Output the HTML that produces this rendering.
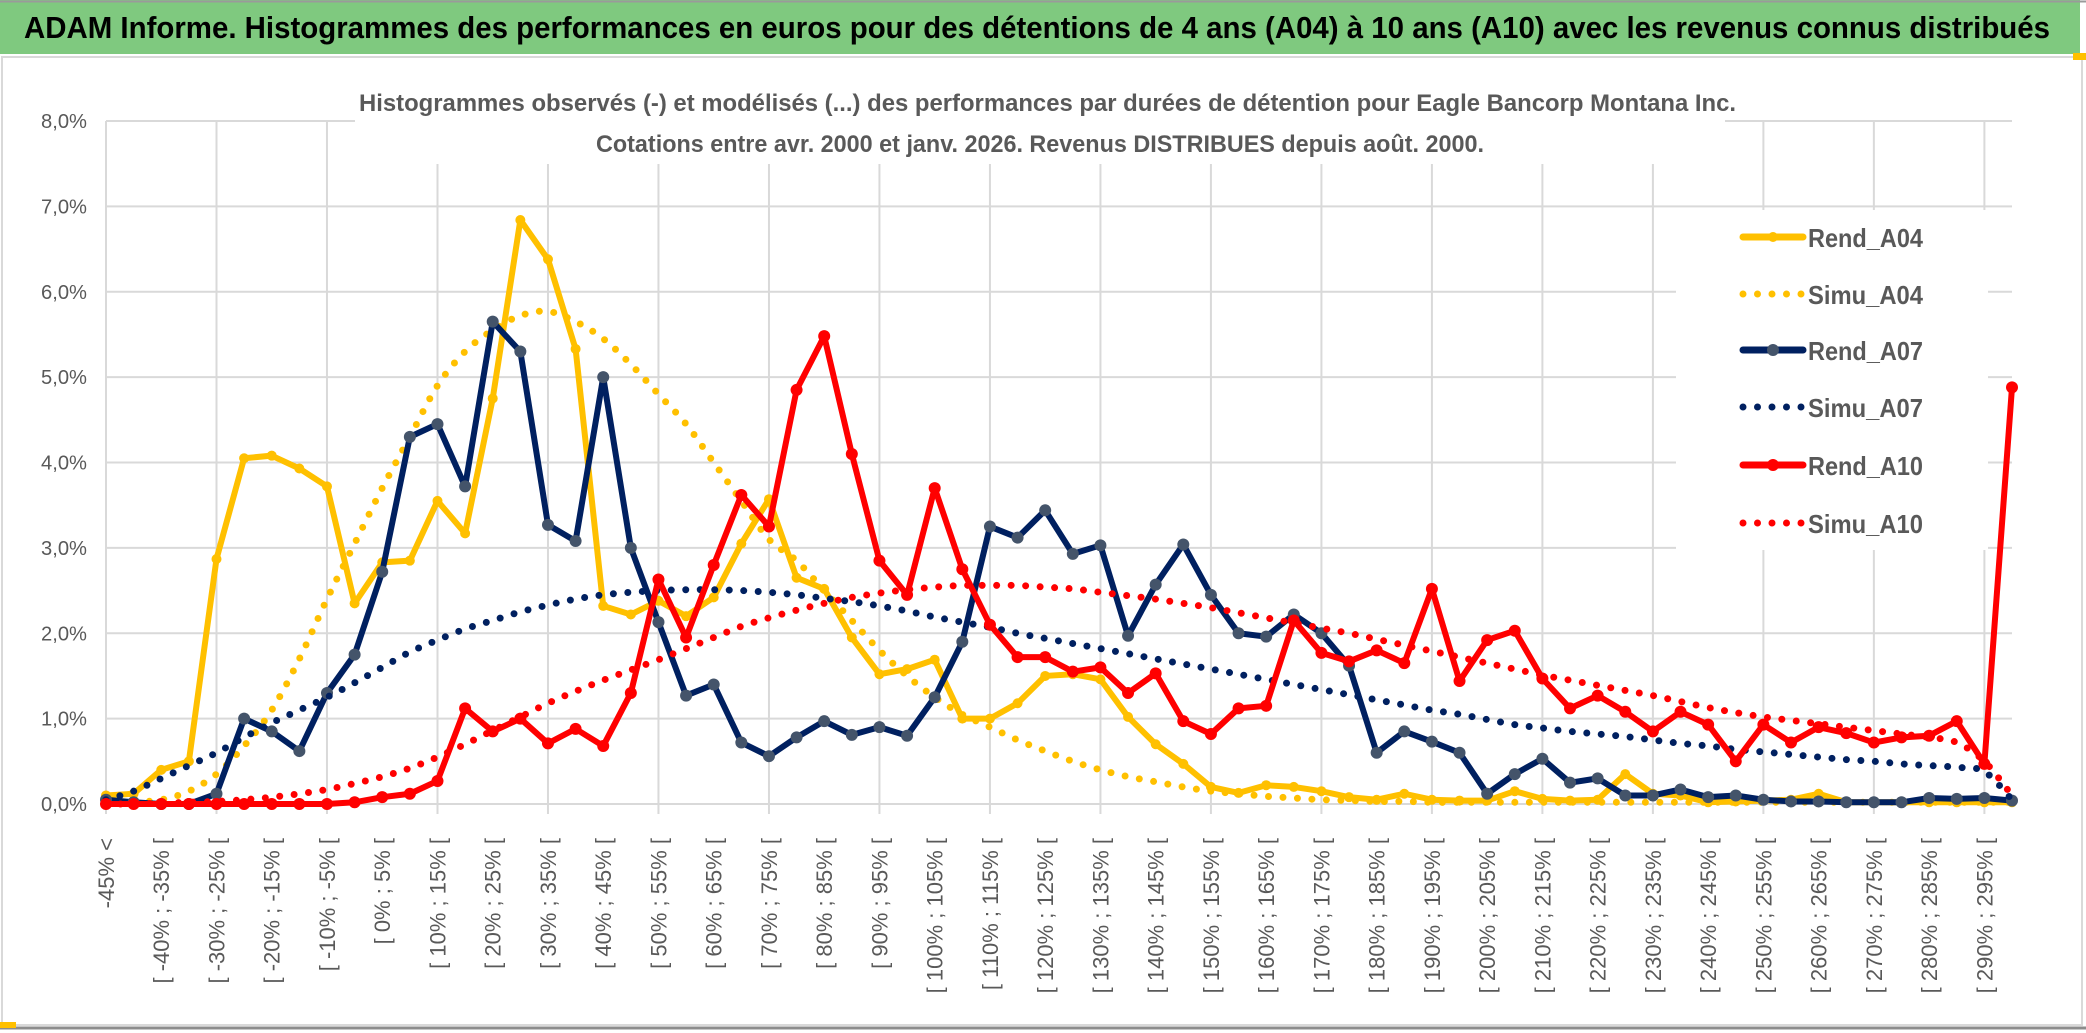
<!DOCTYPE html>
<html><head><meta charset="utf-8"><style>
html,body{margin:0;padding:0;background:#fff;}
svg{display:block;font-family:"Liberation Sans",sans-serif;}
</style></head><body>
<svg id="chart" width="2086" height="1033" viewBox="0 0 2086 1033" xmlns="http://www.w3.org/2000/svg">
  <rect x="0" y="0" width="2086" height="1033" fill="#fff"/>
  <rect x="0" y="0" width="2080" height="54" fill="#7fc97f"/>
  <line x1="0" y1="1.5" x2="2086" y2="1.5" stroke="#9a9a9a" stroke-width="2"/>
  <text x="24" y="38" font-size="31" font-weight="bold" fill="#000" textLength="2026" lengthAdjust="spacingAndGlyphs">ADAM Informe. Histogrammes des performances en euros pour des détentions de 4 ans (A04) à 10 ans (A10) avec les revenus connus distribués</text>
  <rect x="2" y="57" width="2080" height="968" fill="none" stroke="#d9d9d9" stroke-width="2"/>
  <rect x="2073" y="53" width="13" height="7" fill="#ffc000"/>
  <line x1="0" y1="1028" x2="2086" y2="1028" stroke="#8c8c8c" stroke-width="3"/>
  <rect x="0" y="1022" width="16" height="6" fill="#ffc000"/>
  <g id="grid"></g>
  <g id="yaxis"></g>
  <g id="xaxis"></g>
  <g id="series"></g>
  <rect x="355" y="72" width="1370" height="92" fill="#fff"/>
  <text x="359" y="111" font-size="24" font-weight="bold" fill="#595959" textLength="1377" lengthAdjust="spacingAndGlyphs">Histogrammes observés (-) et modélisés (...) des performances par durées de détention pour Eagle Bancorp Montana Inc.</text>
  <text x="596" y="152" font-size="24" font-weight="bold" fill="#595959" textLength="888" lengthAdjust="spacingAndGlyphs">Cotations entre avr. 2000 et janv. 2026. Revenus DISTRIBUES depuis août. 2000.</text>
  <rect x="1676" y="210" width="312" height="340" fill="#fff"/>
  <g id="legend"></g>
</svg>
<script>
const categories = ["-45% <"];
for (let k = 1; k < 69; k++) categories.push("[ " + (-50 + 5 * k) + "% ; " + (-45 + 5 * k) + "% [");
categories.push("> 295%");
const yTicks = [0, 1, 2, 3, 4, 5, 6, 7, 8];
const yTickLabels = ["0,0%", "1,0%", "2,0%", "3,0%", "4,0%", "5,0%", "6,0%", "7,0%", "8,0%"];
const rendA04 = [0.1,0.12,0.4,0.5,2.87,4.05,4.08,3.93,3.72,2.35,2.83,2.85,3.55,3.17,4.75,6.84,6.38,5.33,2.32,2.22,2.38,2.2,2.42,3.05,3.57,2.65,2.52,1.95,1.52,1.58,1.69,1.0,1.0,1.18,1.5,1.52,1.46,1.02,0.7,0.47,0.2,0.13,0.22,0.2,0.15,0.08,0.05,0.12,0.05,0.04,0.04,0.15,0.06,0.04,0.05,0.35,0.12,0.1,0.02,0.03,0.04,0.05,0.12,0.02,0.02,0.02,0.02,0.02,0.02,0.02];
const simuA04 = [0.0,0.02,0.05,0.15,0.35,0.68,1.1,1.7,2.4,3.05,3.7,4.3,4.9,5.3,5.55,5.72,5.77,5.65,5.45,5.15,4.8,4.45,4.0,3.55,3.1,2.85,2.5,2.15,1.8,1.5,1.25,1.05,0.9,0.75,0.62,0.5,0.4,0.32,0.26,0.2,0.15,0.12,0.09,0.07,0.05,0.04,0.03,0.03,0.02,0.02,0.02,0.02,0.02,0.02,0.02,0.02,0.02,0.02,0.02,0.02,0.02,0.02,0.02,0.02,0.02,0.02,0.02,0.02,0.02,0.02];
const rendA07 = [0.05,0.02,0.0,0.0,0.12,1.0,0.85,0.62,1.3,1.75,2.72,4.3,4.45,3.72,5.65,5.3,3.27,3.08,5.0,3.0,2.13,1.27,1.4,0.72,0.56,0.78,0.97,0.81,0.9,0.8,1.25,1.9,3.25,3.12,3.44,2.93,3.03,1.97,2.57,3.04,2.45,2.0,1.96,2.22,2.0,1.62,0.6,0.85,0.73,0.6,0.12,0.35,0.53,0.25,0.3,0.1,0.1,0.17,0.08,0.1,0.05,0.03,0.03,0.02,0.02,0.02,0.07,0.06,0.07,0.04];
const simuA07 = [0.05,0.15,0.3,0.45,0.6,0.78,0.95,1.1,1.25,1.42,1.6,1.78,1.92,2.05,2.15,2.25,2.33,2.4,2.45,2.48,2.5,2.51,2.51,2.5,2.48,2.45,2.41,2.37,2.32,2.26,2.19,2.13,2.07,2.0,1.94,1.88,1.82,1.76,1.7,1.64,1.58,1.52,1.46,1.4,1.34,1.28,1.22,1.16,1.1,1.05,0.99,0.93,0.89,0.85,0.82,0.79,0.75,0.71,0.68,0.64,0.61,0.58,0.55,0.52,0.5,0.47,0.45,0.43,0.38,0.05];
const rendA10 = [0,0,0,0,0,0,0,0,0,0.02,0.08,0.12,0.27,1.12,0.85,1.0,0.71,0.88,0.68,1.3,2.63,1.95,2.8,3.62,3.25,4.85,5.48,4.1,2.85,2.45,3.7,2.75,2.1,1.72,1.72,1.55,1.6,1.3,1.53,0.97,0.82,1.12,1.15,2.15,1.77,1.67,1.8,1.65,2.52,1.44,1.92,2.03,1.47,1.12,1.27,1.08,0.85,1.08,0.93,0.5,0.93,0.72,0.9,0.83,0.72,0.78,0.8,0.97,0.47,4.88];
const simuA10 = [0.0,0.0,0.01,0.02,0.03,0.05,0.08,0.12,0.17,0.24,0.32,0.42,0.55,0.7,0.86,1.02,1.18,1.32,1.45,1.57,1.69,1.82,1.95,2.08,2.18,2.27,2.35,2.42,2.47,2.51,2.54,2.56,2.56,2.56,2.54,2.52,2.48,2.44,2.4,2.35,2.3,2.24,2.18,2.12,2.06,2.0,1.93,1.86,1.79,1.72,1.65,1.58,1.51,1.45,1.39,1.33,1.27,1.2,1.13,1.07,1.02,0.98,0.94,0.9,0.86,0.82,0.78,0.72,0.5,0.1];
const seriesNames = ["Rend_A04","Simu_A04","Rend_A07","Simu_A07","Rend_A10","Simu_A10"];

const NS = "http://www.w3.org/2000/svg";
const X0 = 106, X1 = 2012, Y0 = 804, Y8 = 121;
function xPos(i) { return X0 + i * (X1 - X0) / (categories.length - 1); }
function yPos(v) { return Y0 - v * (Y0 - Y8) / 8; }
function mk(tag, attrs, parent) {
  const el = document.createElementNS(NS, tag);
  for (const k in attrs) el.setAttribute(k, attrs[k]);
  parent.appendChild(el);
  return el;
}
const grid = document.getElementById("grid");
const yaxis = document.getElementById("yaxis");
const xaxis = document.getElementById("xaxis");
const series = document.getElementById("series");
const legend = document.getElementById("legend");

yTicks.forEach((t, k) => {
  const ln = mk("line", {x1: X0, x2: X1, y1: yPos(t), y2: yPos(t), stroke: "#d9d9d9", "stroke-width": 2}, grid);
  
  
  const tx = mk("text", {x: 87, y: yPos(t) + 7, "font-size": 20, fill: "#595959", "text-anchor": "end", textLength: 46, lengthAdjust: "spacingAndGlyphs"}, yaxis);
  tx.textContent = yTickLabels[k];
  
  
});
categories.forEach((c, i) => {
  if (i % 4 === 0) {
    const ln = mk("line", {x1: xPos(i), x2: xPos(i), y1: Y8, y2: Y0 + 10, stroke: "#d9d9d9", "stroke-width": 2}, grid);
    
    
  }
  if (i % 2 === 0 && i < 69) {
    const x = xPos(i) + 8, y = 838;
    const tx = mk("text", {x: x, y: y, "font-size": 22, fill: "#595959", "text-anchor": "end", transform: "rotate(-90 " + x + " " + y + ")"}, xaxis);
    tx.textContent = c;
    
    
  }
});

const styles = [
  {data: rendA04, color: "#ffc000", marker: "#ffc000", dotted: false, r: 5},
  {data: simuA04, color: "#ffc000", dotted: true},
  {data: rendA07, color: "#002060", marker: "#44546a", dotted: false, r: 6},
  {data: simuA07, color: "#002060", dotted: true},
  {data: rendA10, color: "#ff0000", marker: "#ff0000", dotted: false, r: 6},
  {data: simuA10, color: "#ff0000", dotted: true}
];
styles.forEach((s, si) => {
  const g = mk("g", {}, series);
  
  
  let d;
  if (s.dotted) {
    const pts = s.data.map((v, i) => [xPos(i), yPos(v)]);
    d = "M" + pts[0][0] + "," + pts[0][1];
    for (let i = 0; i < pts.length - 1; i++) {
      const p0 = pts[Math.max(0, i - 1)], p1 = pts[i], p2 = pts[i + 1], p3 = pts[Math.min(pts.length - 1, i + 2)];
      const c1x = p1[0] + (p2[0] - p0[0]) / 6, c1y = p1[1] + (p2[1] - p0[1]) / 6;
      const c2x = p2[0] - (p3[0] - p1[0]) / 6, c2y = p2[1] - (p3[1] - p1[1]) / 6;
      d += " C" + c1x + "," + c1y + " " + c2x + "," + c2y + " " + p2[0] + "," + p2[1];
    }
    const p = mk("path", {d: d, fill: "none", stroke: s.color, "stroke-width": 7, "stroke-linecap": "round", "stroke-dasharray": "0 14.5"}, g);
    
    
  } else {
    d = s.data.map((v, i) => (i ? "L" : "M") + xPos(i) + "," + yPos(v)).join(" ");
    const p = mk("path", {d: d, fill: "none", stroke: s.color, "stroke-width": 6, "stroke-linejoin": "round"}, g);
    
    
    s.data.forEach((v, i) => {
      const c = mk("circle", {cx: xPos(i), cy: yPos(v), r: s.r, fill: s.marker}, g);
      
      
    });
  }
});

const legendY = [237, 294, 350, 407, 465, 523];
styles.forEach((s, si) => {
  const y = legendY[si];
  const g = mk("g", {}, legend);
  
  
  if (s.dotted) {
    const l = mk("line", {x1: 1743, x2: 1803, y1: y, y2: y, stroke: s.color, "stroke-width": 7, "stroke-linecap": "round", "stroke-dasharray": "0 14.5"}, g);
    
    
  } else {
    const l = mk("line", {x1: 1743, x2: 1803, y1: y, y2: y, stroke: s.color, "stroke-width": 7, "stroke-linecap": "round"}, g);
    
    
    const c = mk("circle", {cx: 1773, cy: y, r: s.r, fill: s.marker}, g);
    
    
  }
  const t = mk("text", {x: 1808, y: y + 10, "font-size": 26, "font-weight": "bold", fill: "#595959", textLength: 115, lengthAdjust: "spacingAndGlyphs"}, g);
  t.textContent = seriesNames[si];
  
  
});
</script>
</body></html>
